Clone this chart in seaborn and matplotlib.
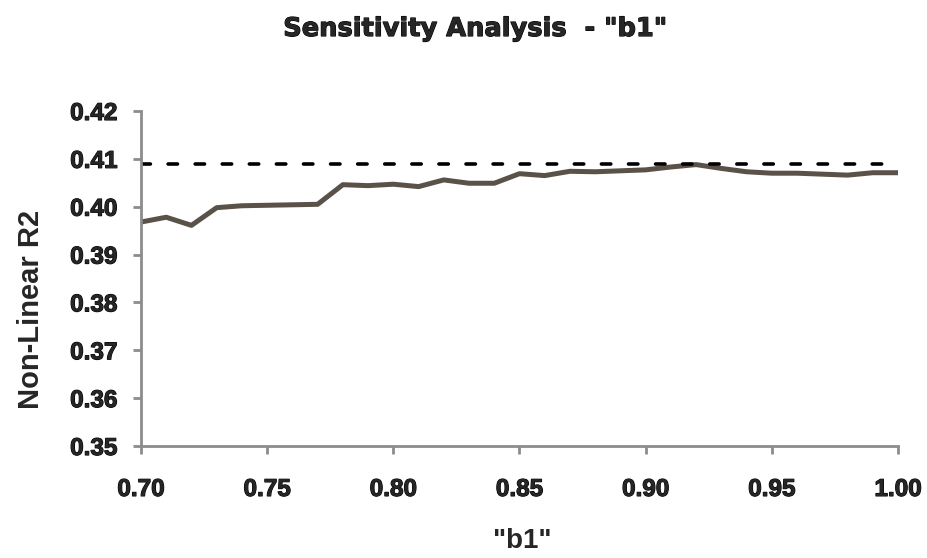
import matplotlib
matplotlib.use("Agg")
import matplotlib.pyplot as plt
import matplotlib.patheffects as pe
import seaborn as sns
import pandas as pd

b1_values = [0.70, 0.71, 0.72, 0.73, 0.74, 0.75, 0.76, 0.77, 0.78, 0.79,
             0.80, 0.81, 0.82, 0.83, 0.84, 0.85, 0.86, 0.87, 0.88, 0.89,
             0.90, 0.91, 0.92, 0.93, 0.94, 0.95, 0.96, 0.97, 0.98, 0.99, 1.00]
r2_values = [0.3968, 0.3978, 0.3961, 0.3998, 0.4002, 0.4003, 0.4004, 0.4005, 0.4046, 0.4044,
             0.4047, 0.4042, 0.4056, 0.4049, 0.4049, 0.4069, 0.4065, 0.4074, 0.4073, 0.4075,
             0.4077, 0.4083, 0.4088, 0.4080, 0.4073, 0.4070, 0.4070, 0.4068, 0.4066, 0.4071, 0.4071]
reference_r2 = 0.4089
x_ticks = [0.70, 0.75, 0.80, 0.85, 0.90, 0.95, 1.00]
y_ticks = [0.35, 0.36, 0.37, 0.38, 0.39, 0.40, 0.41, 0.42]

sns.set_style("white")
plt.rcParams['font.family'] = ['Liberation Sans', 'DejaVu Sans']

df = pd.DataFrame({"b1": b1_values, "r2": r2_values})

fig = plt.figure(figsize=(9.27, 5.58), dpi=100)
ax = fig.add_axes([0.1521, 0.2007, 0.8166, 0.6004])

sns.lineplot(data=df, x="b1", y="r2", ax=ax, color="#5a5249", linewidth=3.6)
ax.plot([b1_values[0], b1_values[-1]], [reference_r2, reference_r2],
        color="black", linewidth=2.6, dashes=(2.6, 4.9), dash_capstyle="round")

heavy = [pe.withStroke(linewidth=0.8, foreground="black")]

ax.set_xlim(0.70, 1.00)
ax.set_ylim(0.35, 0.42)
ax.set_xticks(x_ticks)
ax.set_yticks(y_ticks)
ax.set_xticklabels([f"{v:.2f}" for v in x_ticks], fontsize=17.5, fontweight="bold")
ax.set_yticklabels([f"{v:.2f}" for v in y_ticks], fontsize=17.5, fontweight="bold")
for lbl in ax.get_xticklabels() + ax.get_yticklabels():
    lbl.set_path_effects(heavy)

for side in ["top", "right"]:
    ax.spines[side].set_visible(False)
for side in ["left", "bottom"]:
    ax.spines[side].set_color("#8c8c8c")
    ax.spines[side].set_linewidth(2)
ax.tick_params(axis="both", direction="out", length=6, width=2, color="#8c8c8c",
               left=True, bottom=True)
ax.tick_params(axis="x", pad=17)
ax.tick_params(axis="y", pad=11)

ax.set_xlabel('"b1"', fontsize=20, fontweight="bold", va="center")
ax.xaxis.set_label_coords(0.503, -0.2836)
ax.set_ylabel("Non-Linear R2", fontsize=21, fontweight="bold", va="center")
ax.yaxis.set_label_coords(-0.1455, 0.409)
fig.text(0.513, 0.948, 'Sensitivity Analysis  - "b1"', ha="center", va="center",
         fontsize=18.5, fontweight="bold", family=["DejaVu Sans"],
         path_effects=heavy)

fig.savefig("out.png", dpi=100)
